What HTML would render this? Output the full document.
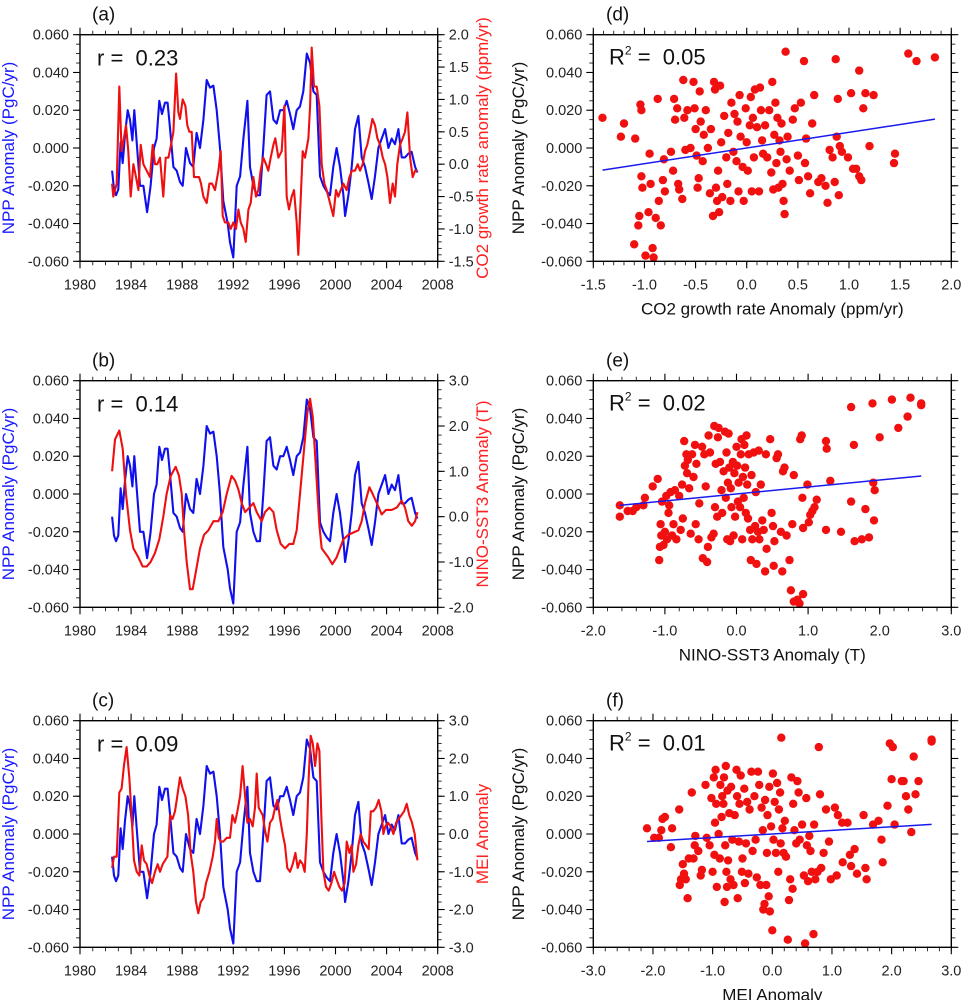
<!DOCTYPE html>
<html><head><meta charset="utf-8"><style>
html,body{margin:0;padding:0;background:#fff}
svg{display:block;font-family:"Liberation Sans",sans-serif}
</style></head><body>
<svg id="fig" width="961" height="1000" viewBox="0 0 961 1000"></svg>
<script>
// ===== DATA =====
const nppYears=[1982.51,1982.66,1982.82,1983.00,1983.18,1983.34,1983.52,1983.73,1983.91,1984.10,1984.25,1984.44,1984.70,1984.96,1985.25,1985.53,1985.79,1986.00,1986.21,1986.42,1986.65,1986.86,1987.05,1987.31,1987.57,1987.83,1988.04,1988.30,1988.61,1988.87,1989.13,1989.39,1989.66,1989.92,1990.18,1990.44,1990.70,1990.96,1991.22,1991.56,1991.74,1992.00,1992.27,1992.53,1992.79,1993.10,1993.31,1993.57,1993.83,1994.09,1994.35,1994.61,1994.87,1995.14,1995.40,1995.66,1995.92,1996.18,1996.44,1996.70,1996.96,1997.22,1997.48,1997.75,1998.01,1998.27,1998.53,1998.79,1999.05,1999.31,1999.57,1999.83,2000.09,2000.35,2000.62,2000.75,2001.01,2001.27,2001.53,2001.79,2002.05,2002.31,2002.57,2002.83,2003.09,2003.36,2003.62,2003.88,2004.14,2004.40,2004.66,2004.92,2005.18,2005.44,2005.70,2005.96,2006.23,2006.41];
const nppValues=[-0.012,-0.022,-0.025,-0.022,0.003,-0.008,0.007,0.020,0.015,0.004,0.020,0.003,-0.020,-0.020,-0.034,-0.020,0.000,0.005,0.025,0.018,0.024,0.024,0.010,-0.010,-0.012,-0.018,-0.020,0.000,-0.008,-0.010,0.008,0.000,0.015,0.036,0.032,0.033,0.020,0.000,-0.028,-0.040,-0.050,-0.058,-0.020,-0.015,0.005,0.025,-0.010,-0.020,-0.025,-0.025,0.000,0.028,0.030,0.015,0.013,0.020,0.020,0.025,0.018,0.010,0.020,0.022,0.030,0.050,0.045,0.030,0.028,-0.015,-0.020,-0.023,-0.025,-0.010,0.000,-0.010,-0.025,-0.036,-0.025,-0.010,0.010,0.017,-0.005,-0.010,-0.018,-0.027,-0.015,0.000,0.005,0.010,0.000,0.005,0.002,0.010,-0.005,-0.005,-0.003,-0.002,-0.010,-0.013];

const co2Px=[336,340,350,358,365,372,378,385,392,400,408,415,422,430,440,450,458,465,472,480,490,497,505,513,520,528,535,540,548,556,562,568,575,582,590,597,603,610,620,628,636,645,655,662,668,675,685,692,700,708,715,722,730,737,745,752,760,768,775,782,790,798,805,812,820,826,835,845,853,860,867,875,882,890,895,902,908,915,925,930,935,942,950,958,965,973,980,990,1000,1008,1015,1022,1030,1040,1048,1056,1065,1073,1080,1088,1095,1102,1110,1117,1125,1132,1140,1148,1155,1162,1170,1178,1185,1192,1200,1208,1215,1222,1230,1238,1245,1252];
const co2Years=co2Px.map(p=>+(1980+(p-240)/38.32).toFixed(2));
const co2Values=[-0.3,-0.5,-0.3,1.2,0.2,0.4,0.6,0.2,-0.5,0.0,-0.2,-0.4,0.3,0.0,-0.1,-0.2,0.3,0.0,0.0,0.1,-0.5,0.1,0.1,0.3,0.5,1.4,0.8,0.7,1.0,0.9,0.6,0.5,0.5,-0.2,-0.2,-0.2,-0.3,-0.5,-0.6,-0.3,-0.3,-0.4,-0.1,0.2,-0.8,-0.9,-0.9,-1.0,-0.9,-1.0,-0.7,-0.9,-1.0,-1.2,-0.7,-0.6,-0.2,-0.5,-0.4,-0.1,0.1,0.0,-0.1,0.1,0.3,0.4,0.1,0.2,0.9,-0.5,-0.7,-0.5,-0.4,-0.9,-1.4,-0.5,0.2,0.1,0.4,0.9,1.8,1.2,1.2,0.9,0.0,-0.3,-0.4,-0.6,-0.8,-0.4,-0.5,-0.4,-0.3,-0.4,-0.2,-0.1,-0.1,0.0,-0.1,0.0,0.2,0.3,0.5,0.7,0.6,0.4,0.3,0.1,0.0,-0.2,-0.6,-0.3,-0.5,0.0,0.3,0.4,0.5,0.8,0.1,-0.2,-0.1,-0.1];

const ninoPx=[336,345,358,368,378,390,400,415,428,440,452,465,478,490,500,512,527,537,545,552,560,570,578,588,600,612,625,640,655,668,680,695,705,715,725,735,748,760,770,785,795,808,820,830,842,855,868,880,890,900,912,922,930,938,948,958,965,975,985,997,1010,1020,1030,1045,1060,1075,1085,1095,1108,1118,1130,1145,1158,1175,1190,1205,1215,1225,1235,1245,1252];
const ninoYears=ninoPx.map(p=>+(1980+(p-240)/38.32).toFixed(2));
const ninoValues=[1.0,1.7,1.9,1.5,0.5,-0.3,-0.7,-0.9,-1.1,-1.1,-1.0,-0.8,-0.5,0.0,0.5,0.9,1.1,0.9,0.5,-0.3,-1.0,-1.6,-1.6,-1.2,-0.7,-0.4,-0.3,-0.1,-0.1,0.1,0.5,0.9,0.8,0.6,0.3,0.1,0.2,0.3,0.1,-0.1,0.1,0.2,0.1,-0.3,-0.6,-0.7,-0.6,-0.6,-0.3,0.5,1.5,2.3,2.6,2.2,1.0,-0.2,-0.7,-0.8,-0.9,-1.05,-0.9,-0.7,-0.5,-0.4,-0.35,-0.3,-0.1,0.3,0.65,0.5,0.3,0.05,0.15,0.15,0.2,0.35,0.2,-0.1,-0.2,-0.1,0.1];

const meiPx=[336,342,350,358,365,372,380,388,395,402,410,418,425,432,440,448,456,465,473,480,488,495,502,510,518,525,532,540,548,556,564,572,580,588,595,602,610,618,628,638,645,650,656,662,670,680,690,697,705,712,720,728,735,742,750,758,765,770,776,782,788,795,802,810,818,825,832,840,848,855,862,870,878,886,893,900,908,914,920,926,932,938,945,952,958,964,970,978,986,994,1002,1010,1018,1026,1034,1040,1048,1055,1060,1068,1075,1082,1090,1098,1106,1112,1120,1128,1136,1144,1150,1156,1164,1172,1180,1188,1196,1204,1212,1220,1228,1236,1244,1252];
const meiYears=meiPx.map(p=>+(1980+(p-240)/38.32).toFixed(2));
const meiValues=[-0.9,-0.6,-0.6,1.1,1.2,1.8,2.3,1.5,0.5,-0.7,-1.0,-1.1,-0.3,-0.7,-0.8,-1.1,-1.3,-1.0,-0.8,-1.0,-0.8,-0.7,-0.6,0.5,0.4,0.6,1.0,1.5,1.2,1.0,0.5,-0.5,-1.0,-1.8,-2.1,-1.8,-1.7,-1.3,-1.0,-0.6,-0.2,0.4,-0.1,-0.2,-0.2,-0.1,-0.1,0.5,0.3,0.6,1.0,1.8,1.0,0.3,0.4,0.2,0.7,1.6,0.7,0.6,0.5,0.1,-0.2,0.3,0.4,0.7,0.9,0.4,0.0,-0.3,-0.9,-1.0,-0.8,-0.5,-0.9,-0.7,-0.8,-1.0,0.0,1.5,2.6,2.4,1.8,2.4,2.2,0.5,-1.0,-1.4,-1.5,-1.3,-1.0,-1.2,-1.4,-1.5,-1.3,-0.2,-0.5,-0.3,-1.0,-0.8,-0.3,0.0,-0.2,-0.3,-0.4,0.6,0.6,0.7,0.9,0.6,0.0,0.2,0.3,0.2,0.0,0.3,0.4,0.5,0.6,0.8,0.5,0.3,0.0,-0.7];

const scatterD=[[-1.41,0.016],[-1.23,0.006],[-1.20,0.013],[-1.09,0.005],[-1.04,0.023],[-1.03,0.020],[-1.03,-0.015],[-1.02,-0.021],[-1.05,-0.036],[-1.06,-0.041],[-1.10,-0.051],[-0.99,-0.057],[-0.92,-0.053],[-0.91,-0.058],[-0.96,-0.034],[-0.95,-0.003],[-0.94,-0.019],[-0.87,0.026],[-0.86,-0.028],[-0.89,-0.037],[-0.84,-0.041],[-0.82,-0.017],[-0.81,-0.006],[-0.80,-0.023],[-0.74,-0.002],[-0.72,-0.012],[-0.71,0.026],[-0.70,0.015],[-0.68,0.021],[-0.67,-0.019],[-0.66,-0.022],[-0.63,-0.027],[-0.62,0.036],[-0.61,0.016],[-0.60,-0.001],[-0.58,0.020],[-0.55,0.000],[-0.52,0.035],[-0.51,0.021],[-0.50,0.010],[-0.49,-0.004],[-0.48,-0.021],[-0.47,-0.016],[-0.46,0.030],[-0.45,0.014],[-0.43,-0.007],[-0.42,0.007],[-0.40,0.020],[-0.38,0.000],[-0.36,-0.024],[-0.35,0.010],[-0.33,-0.036],[-0.32,0.035],[-0.31,0.031],[-0.30,-0.021],[-0.29,-0.028],[-0.28,-0.012],[-0.27,-0.034],[-0.26,0.033],[-0.25,0.003],[-0.24,-0.026],[-0.22,0.017],[-0.20,-0.005],[-0.19,-0.019],[-0.18,0.008],[-0.16,-0.028],[-0.15,0.024],[-0.13,-0.002],[-0.12,0.018],[-0.10,-0.007],[-0.09,0.014],[-0.08,-0.023],[-0.07,0.028],[-0.06,0.006],[-0.04,-0.010],[-0.03,-0.028],[-0.01,0.021],[0.00,0.003],[0.01,-0.012],[0.03,0.012],[0.04,0.027],[0.05,-0.023],[0.06,0.016],[0.07,-0.005],[0.08,0.031],[0.10,0.011],[0.12,-0.023],[0.13,0.032],[0.14,0.020],[0.15,0.004],[0.16,-0.003],[0.18,0.012],[0.20,-0.005],[0.22,0.020],[0.24,-0.013],[0.25,0.035],[0.26,-0.022],[0.27,0.007],[0.28,0.024],[0.29,-0.008],[0.30,0.016],[0.31,-0.021],[0.32,0.004],[0.33,-0.002],[0.34,0.013],[0.35,-0.019],[0.36,-0.028],[0.37,-0.035],[0.38,0.051],[0.39,-0.006],[0.40,0.006],[0.42,-0.012],[0.45,0.015],[0.47,0.021],[0.50,-0.004],[0.51,-0.017],[0.53,0.024],[0.56,0.046],[0.57,-0.008],[0.58,0.005],[0.60,-0.015],[0.62,-0.024],[0.64,0.013],[0.66,0.028],[0.70,-0.018],[0.73,-0.016],[0.77,-0.020],[0.79,-0.029],[0.81,-0.001],[0.84,-0.005],[0.86,-0.018],[0.87,0.047],[0.88,0.006],[0.89,0.026],[0.90,-0.025],[0.91,0.001],[0.93,-0.002],[0.99,-0.005],[1.02,0.029],[1.04,-0.011],[1.07,-0.011],[1.10,-0.015],[1.10,0.041],[1.12,-0.017],[1.14,0.021],[1.16,0.029],[1.20,0.001],[1.24,0.028],[1.44,-0.008],[1.45,-0.003],[1.58,0.050],[1.66,0.046],[1.84,0.048]];
const scatterE=[[-1.63,-0.006],[-1.63,-0.012],[-1.52,-0.009],[-1.45,-0.009],[-1.40,-0.007],[-1.30,-0.006],[-1.28,-0.002],[-1.17,0.004],[-1.10,0.008],[-1.08,-0.035],[-1.07,-0.028],[-1.06,-0.016],[-1.05,-0.022],[-1.04,-0.004],[-1.02,-0.027],[-1.00,-0.020],[-0.98,-0.001],[-0.97,-0.024],[-0.95,-0.010],[-0.94,-0.006],[-0.92,0.001],[-0.90,-0.022],[-0.88,-0.016],[-0.86,0.002],[-0.84,-0.024],[-0.80,-0.001],[-0.78,-0.019],[-0.76,0.005],[-0.75,-0.013],[-0.73,0.028],[-0.72,0.015],[-0.70,0.021],[-0.69,0.011],[-0.68,0.018],[-0.66,0.003],[-0.64,-0.021],[-0.62,0.021],[-0.60,0.009],[-0.58,0.026],[-0.57,-0.016],[-0.56,0.016],[-0.53,-0.024],[-0.52,-0.005],[-0.48,0.025],[-0.47,-0.034],[-0.45,0.021],[-0.43,0.004],[-0.41,-0.036],[-0.40,-0.028],[-0.39,0.031],[-0.37,0.022],[-0.35,-0.023],[-0.32,-0.021],[-0.31,0.036],[-0.30,-0.007],[-0.29,0.016],[-0.27,-0.012],[-0.26,0.030],[-0.25,0.035],[-0.23,0.017],[-0.21,0.002],[-0.20,-0.010],[-0.18,0.012],[-0.16,0.033],[-0.15,-0.002],[-0.14,0.022],[-0.13,-0.024],[-0.12,0.006],[-0.11,0.032],[-0.10,0.014],[-0.09,-0.025],[-0.08,0.003],[-0.07,-0.007],[-0.05,0.017],[-0.04,-0.022],[-0.03,0.011],[-0.02,-0.012],[0.00,0.025],[0.01,0.015],[0.02,-0.004],[0.03,0.006],[0.05,-0.007],[0.06,0.021],[0.07,0.029],[0.08,-0.024],[0.09,0.009],[0.10,-0.002],[0.11,0.026],[0.12,0.014],[0.13,-0.010],[0.14,0.031],[0.15,0.005],[0.16,-0.013],[0.17,0.021],[0.19,-0.019],[0.20,-0.035],[0.21,0.010],[0.22,-0.024],[0.24,0.022],[0.26,-0.017],[0.27,0.001],[0.28,-0.037],[0.30,-0.020],[0.31,0.023],[0.32,-0.024],[0.34,0.005],[0.36,-0.014],[0.38,-0.019],[0.40,-0.041],[0.41,0.021],[0.42,-0.029],[0.47,0.029],[0.49,-0.010],[0.51,-0.017],[0.52,-0.038],[0.53,-0.025],[0.56,0.019],[0.58,0.021],[0.62,-0.020],[0.64,-0.041],[0.65,0.012],[0.67,0.014],[0.70,-0.022],[0.74,-0.035],[0.76,-0.051],[0.78,-0.016],[0.80,0.010],[0.80,-0.057],[0.85,-0.056],[0.88,-0.058],[0.89,0.029],[0.91,0.031],[0.92,-0.002],[0.93,-0.018],[0.93,-0.053],[0.99,0.005],[1.01,-0.015],[1.03,-0.011],[1.06,-0.009],[1.09,-0.007],[1.12,-0.003],[1.25,0.028],[1.25,-0.019],[1.26,0.024],[1.31,0.007],[1.46,-0.020],[1.60,0.046],[1.60,-0.004],[1.64,0.026],[1.65,-0.025],[1.75,-0.024],[1.80,-0.008],[1.85,-0.023],[1.90,0.048],[1.91,0.006],[1.92,-0.014],[1.93,0.002],[2.00,0.030],[2.17,0.050],[2.26,0.035],[2.39,0.041],[2.43,0.051],[2.58,0.047],[2.58,0.048]];
const scatterF=[[-2.10,0.003],[-1.98,-0.002],[-1.90,-0.002],[-1.86,0.002],[-1.84,0.008],[-1.80,0.009],[-1.70,-0.007],[-1.68,0.003],[-1.56,0.013],[-1.55,-0.027],[-1.53,-0.024],[-1.50,-0.016],[-1.48,-0.021],[-1.45,-0.024],[-1.42,-0.034],[-1.40,-0.013],[-1.35,0.022],[-1.32,-0.013],[-1.30,-0.006],[-1.29,-0.001],[-1.24,-0.009],[-1.20,-0.022],[-1.18,-0.019],[-1.12,0.026],[-1.10,-0.002],[-1.05,-0.006],[-1.02,0.019],[-1.00,-0.020],[-0.98,0.030],[-0.97,-0.011],[-0.96,0.006],[-0.95,0.034],[-0.94,0.016],[-0.93,-0.028],[-0.90,0.000],[-0.88,-0.013],[-0.87,0.026],[-0.85,0.009],[-0.84,0.020],[-0.82,0.016],[-0.81,0.030],[-0.80,-0.036],[-0.79,-0.006],[-0.78,0.036],[-0.77,-0.020],[-0.76,-0.028],[-0.75,0.023],[-0.74,-0.014],[-0.72,0.011],[-0.70,-0.024],[-0.69,0.025],[-0.67,-0.003],[-0.65,-0.027],[-0.63,0.010],[-0.60,0.034],[-0.59,0.020],[-0.58,-0.034],[-0.56,-0.004],[-0.55,0.016],[-0.53,0.031],[-0.51,-0.020],[-0.50,-0.013],[-0.47,0.024],[-0.46,-0.026],[-0.44,-0.005],[-0.42,0.017],[-0.40,-0.021],[-0.38,0.013],[-0.35,0.033],[-0.33,-0.009],[-0.30,0.020],[-0.28,-0.003],[-0.26,-0.023],[-0.24,0.033],[-0.22,0.026],[-0.20,-0.027],[-0.18,0.014],[-0.16,0.002],[-0.15,-0.040],[-0.13,-0.037],[-0.12,0.018],[-0.10,-0.027],[-0.09,-0.010],[-0.08,0.010],[-0.06,-0.033],[-0.05,0.025],[-0.04,-0.041],[-0.02,0.004],[0.00,-0.051],[0.01,0.032],[0.02,-0.003],[0.04,0.017],[0.06,-0.010],[0.08,0.027],[0.10,-0.020],[0.11,0.013],[0.13,0.022],[0.14,-0.005],[0.15,0.051],[0.17,0.003],[0.19,-0.010],[0.21,0.007],[0.23,-0.012],[0.26,-0.056],[0.28,-0.035],[0.30,-0.024],[0.32,0.030],[0.34,-0.029],[0.35,0.016],[0.37,0.002],[0.40,-0.005],[0.42,0.028],[0.44,0.022],[0.46,-0.003],[0.50,0.005],[0.53,-0.022],[0.55,-0.058],[0.57,0.019],[0.58,-0.006],[0.60,-0.025],[0.62,-0.001],[0.64,-0.009],[0.66,-0.020],[0.69,-0.053],[0.70,0.005],[0.72,-0.024],[0.76,-0.020],[0.78,0.046],[0.80,0.021],[0.82,-0.018],[0.86,-0.010],[0.90,0.013],[0.95,-0.004],[0.98,-0.024],[1.05,0.014],[1.08,-0.022],[1.10,0.010],[1.17,0.006],[1.18,-0.015],[1.26,0.006],[1.30,-0.011],[1.32,-0.017],[1.38,-0.008],[1.42,-0.021],[1.53,0.010],[1.56,-0.018],[1.58,-0.024],[1.69,0.005],[1.78,0.007],[1.83,-0.003],[1.85,-0.015],[1.93,0.015],[1.97,0.048],[2.00,0.029],[2.02,0.046],[2.05,0.005],[2.17,0.028],[2.20,0.028],[2.24,0.020],[2.28,0.013],[2.33,0.001],[2.37,0.041],[2.40,0.021],[2.45,0.028],[2.67,0.049],[2.67,0.050]];

const fitD=[0.0,0.0083], fitE=[0.0,0.0037], fitF=[0.0,0.0019];
const yearTicks=[1980,1984,1988,1992,1996,2000,2004,2008];
const nppTicks=[0.06,0.04,0.02,0,-0.02,-0.04,-0.06];

// ===== DRAWING =====
const NS='http://www.w3.org/2000/svg';
const svg=document.getElementById('fig');
function el(tag,attrs,parent,txt){const e=document.createElementNS(NS,tag);for(const k in attrs)e.setAttribute(k,attrs[k]);if(txt!==undefined)e.textContent=txt;(parent||svg).appendChild(e);return e;}
const fmt3=v=>v.toFixed(3), fmt1=v=>v.toFixed(1);
const TF=14.5;

function frame(g,L,R,T,B){
  const r=el('rect',{x:L,y:T,width:R-L,height:B-T,fill:'none',stroke:'#000','stroke-width':1.4},g);
  
  
}
function yAxis(g,x,T,B,vmin,vmax,ticks,fmt,side,minorStep){
  const sy=v=>B-(v-vmin)/(vmax-vmin)*(B-T);
  const dir=side==='left'?-1:1;
  for(let v=vmin;v<=vmax+1e-9;v+=minorStep){el('line',{x1:x,x2:x+dir*4,y1:sy(v),y2:sy(v),stroke:'#000','stroke-width':0.8},g);}
  ticks.forEach(v=>{
    el('line',{x1:x,x2:x+dir*7,y1:sy(v),y2:sy(v),stroke:'#000','stroke-width':1.1},g);
    const t=el('text',{x:side==='left'?x-11:x+11,y:sy(v)+5,'font-size':TF,'text-anchor':side==='left'?'end':'start',fill:'#222'},g,fmt(v));
    
    
  });
}
function xAxis(g,L,R,T,B,vmin,vmax,ticks,fmt,minorStep){
  const sx=v=>L+(v-vmin)/(vmax-vmin)*(R-L);
  for(let v=vmin;v<=vmax+1e-9;v+=minorStep){
    el('line',{x1:sx(v),x2:sx(v),y1:B,y2:B+4,stroke:'#000','stroke-width':0.8},g);
    el('line',{x1:sx(v),x2:sx(v),y1:T,y2:T-4,stroke:'#000','stroke-width':0.8},g);
  }
  ticks.forEach(v=>{
    el('line',{x1:sx(v),x2:sx(v),y1:B,y2:B+7,stroke:'#000','stroke-width':1.1},g);
    el('line',{x1:sx(v),x2:sx(v),y1:T,y2:T-7,stroke:'#000','stroke-width':1.1},g);
    const t=el('text',{x:sx(v),y:B+28,'font-size':TF,'text-anchor':'middle',fill:'#222'},g,fmt(v));
    
    
  });
}
function rightMirror(g,R,T,B,vmin,vmax,ticks,minorStep){
  const sy=v=>B-(v-vmin)/(vmax-vmin)*(B-T);
  for(let v=vmin;v<=vmax+1e-9;v+=minorStep)el('line',{x1:R,x2:R+4,y1:sy(v),y2:sy(v),stroke:'#000','stroke-width':0.8},g);
  ticks.forEach(v=>el('line',{x1:R,x2:R+7,y1:sy(v),y2:sy(v),stroke:'#000','stroke-width':1.1},g));
}
function vlabel(g,x,y,txt,color,name){
  const t=el('text',{x:x,y:y,'font-size':17,'text-anchor':'middle',fill:color,transform:`rotate(-90 ${x} ${y})`},g,txt);
  
  
}
function polyline(g,years,vals,sx,sy,color,name){
  const pts=years.map((y,i)=>sx(y).toFixed(1)+','+sy(vals[i]).toFixed(1)).join(' ');
  const p=el('polyline',{points:pts,fill:'none',stroke:color,'stroke-width':2.1,'stroke-linejoin':'round'},g);
  
  
}

const LL=80,LR=437.7,RL=593.3,RR=951.3,H=226.6;
const tops=[34.7,380.7,720.7];

function tsPanel(i,letter,rval,redYears,redVals,rmin,rmax,rstep,redTitle,redName){
  const T=tops[i],B=T+H;
  const g=el('g',{});
  
  
  const sx=v=>LL+(v-1980)/28*(LR-LL);
  const sy=v=>B-(v+0.06)/0.12*H;
  const sr=v=>B-(v-rmin)/(rmax-rmin)*H;
  const lt=el('text',{x:92,y:T-14,'font-size':19,fill:'#111'},g,'('+letter+')');
  
  
  polyline(g,nppYears,nppValues,sx,sy,'#1010ee','npp-line');
  polyline(g,redYears,redVals,sx,sr,'#ee1010',redName);
  frame(g,LL,LR,T,B);
  xAxis(g,LL,LR,T,B,1980,2008,yearTicks,v=>String(v),1);
  yAxis(g,LL,T,B,-0.06,0.06,nppTicks,fmt3,'left',0.005);
  const rt=[];for(let v=rmin;v<=rmax+1e-9;v+=rstep)rt.push(+v.toFixed(2));
  yAxis(g,LR,T,B,rmin,rmax,rt.reverse(),fmt1,'right',rstep/5);
  vlabel(g,14,T+H/2,'NPP Anomaly (PgC/yr)','#1a1aff','y-axis-title-left');
  vlabel(g,488,T+H/2,redTitle,'#ff2020','y-axis-title-right');
  const rt2=el('text',{x:97,y:T+31,'font-size':22,fill:'#111'},g,'r = \u00a0'+rval);
  
  
}
function scPanel(i,letter,pts,xmin,xmax,xstep,fit,xTitle,r2){
  const T=tops[i],B=T+H;
  const g=el('g',{});
  
  
  const sx=v=>RL+(v-xmin)/(xmax-xmin)*(RR-RL);
  const sy=v=>B-(v+0.06)/0.12*H;
  const lt=el('text',{x:606,y:T-14,'font-size':19,fill:'#111'},g,'('+letter+')');
  
  
  pts.forEach(p=>{
    const c=el('circle',{cx:sx(p[0]).toFixed(1),cy:sy(p[1]).toFixed(1),r:4.2,fill:'#f01010'},g);
    
    
  });
  let xs=pts.map(p=>p[0]);const x0=Math.min(...xs),x1=Math.max(...xs);
  const ln=el('line',{x1:sx(x0),y1:sy(fit[0]+fit[1]*x0),x2:sx(x1),y2:sy(fit[0]+fit[1]*x1),stroke:'#1a1aee','stroke-width':1.5},g);
  
  
  frame(g,RL,RR,T,B);
  const xt=[];for(let v=xmin;v<=xmax+1e-9;v+=xstep)xt.push(+v.toFixed(2));
  xAxis(g,RL,RR,T,B,xmin,xmax,xt,fmt1,xstep/5);
  yAxis(g,RL,T,B,-0.06,0.06,nppTicks,fmt3,'left',0.005);
  rightMirror(g,RR,T,B,-0.06,0.06,nppTicks,0.005);
  vlabel(g,524,T+H/2,'NPP Anomaly (PgC/yr)','#111','y-axis-title');
  const xl=el('text',{x:(RL+RR)/2,y:B+53,'font-size':17,'text-anchor':'middle',fill:'#111'},g,xTitle);
  
  
  const t=el('text',{x:609,y:T+30,'font-size':22,fill:'#111'},g);
  
  
  el('tspan',{},t,'R');el('tspan',{'font-size':12,dy:-10},t,'2');el('tspan',{dy:10},t,' = \u00a0'+r2);
}

tsPanel(0,'a','0.23',co2Years,co2Values,-1.5,2.0,0.5,'CO2 growth rate anomaly (ppm/yr)','co2-line');
tsPanel(1,'b','0.14',ninoYears,ninoValues,-2.0,3.0,1.0,'NINO-SST3 Anomaly (T)','nino-line');
tsPanel(2,'c','0.09',meiYears,meiValues,-3.0,3.0,1.0,'MEI Anomaly','mei-line');
scPanel(0,'d',scatterD,-1.5,2.0,0.5,fitD,'CO2 growth rate Anomaly (ppm/yr)','0.05');
scPanel(1,'e',scatterE,-2.0,3.0,1.0,fitE,'NINO-SST3 Anomaly (T)','0.02');
scPanel(2,'f',scatterF,-3.0,3.0,1.0,fitF,'MEI Anomaly','0.01');
</script>
</body></html>
